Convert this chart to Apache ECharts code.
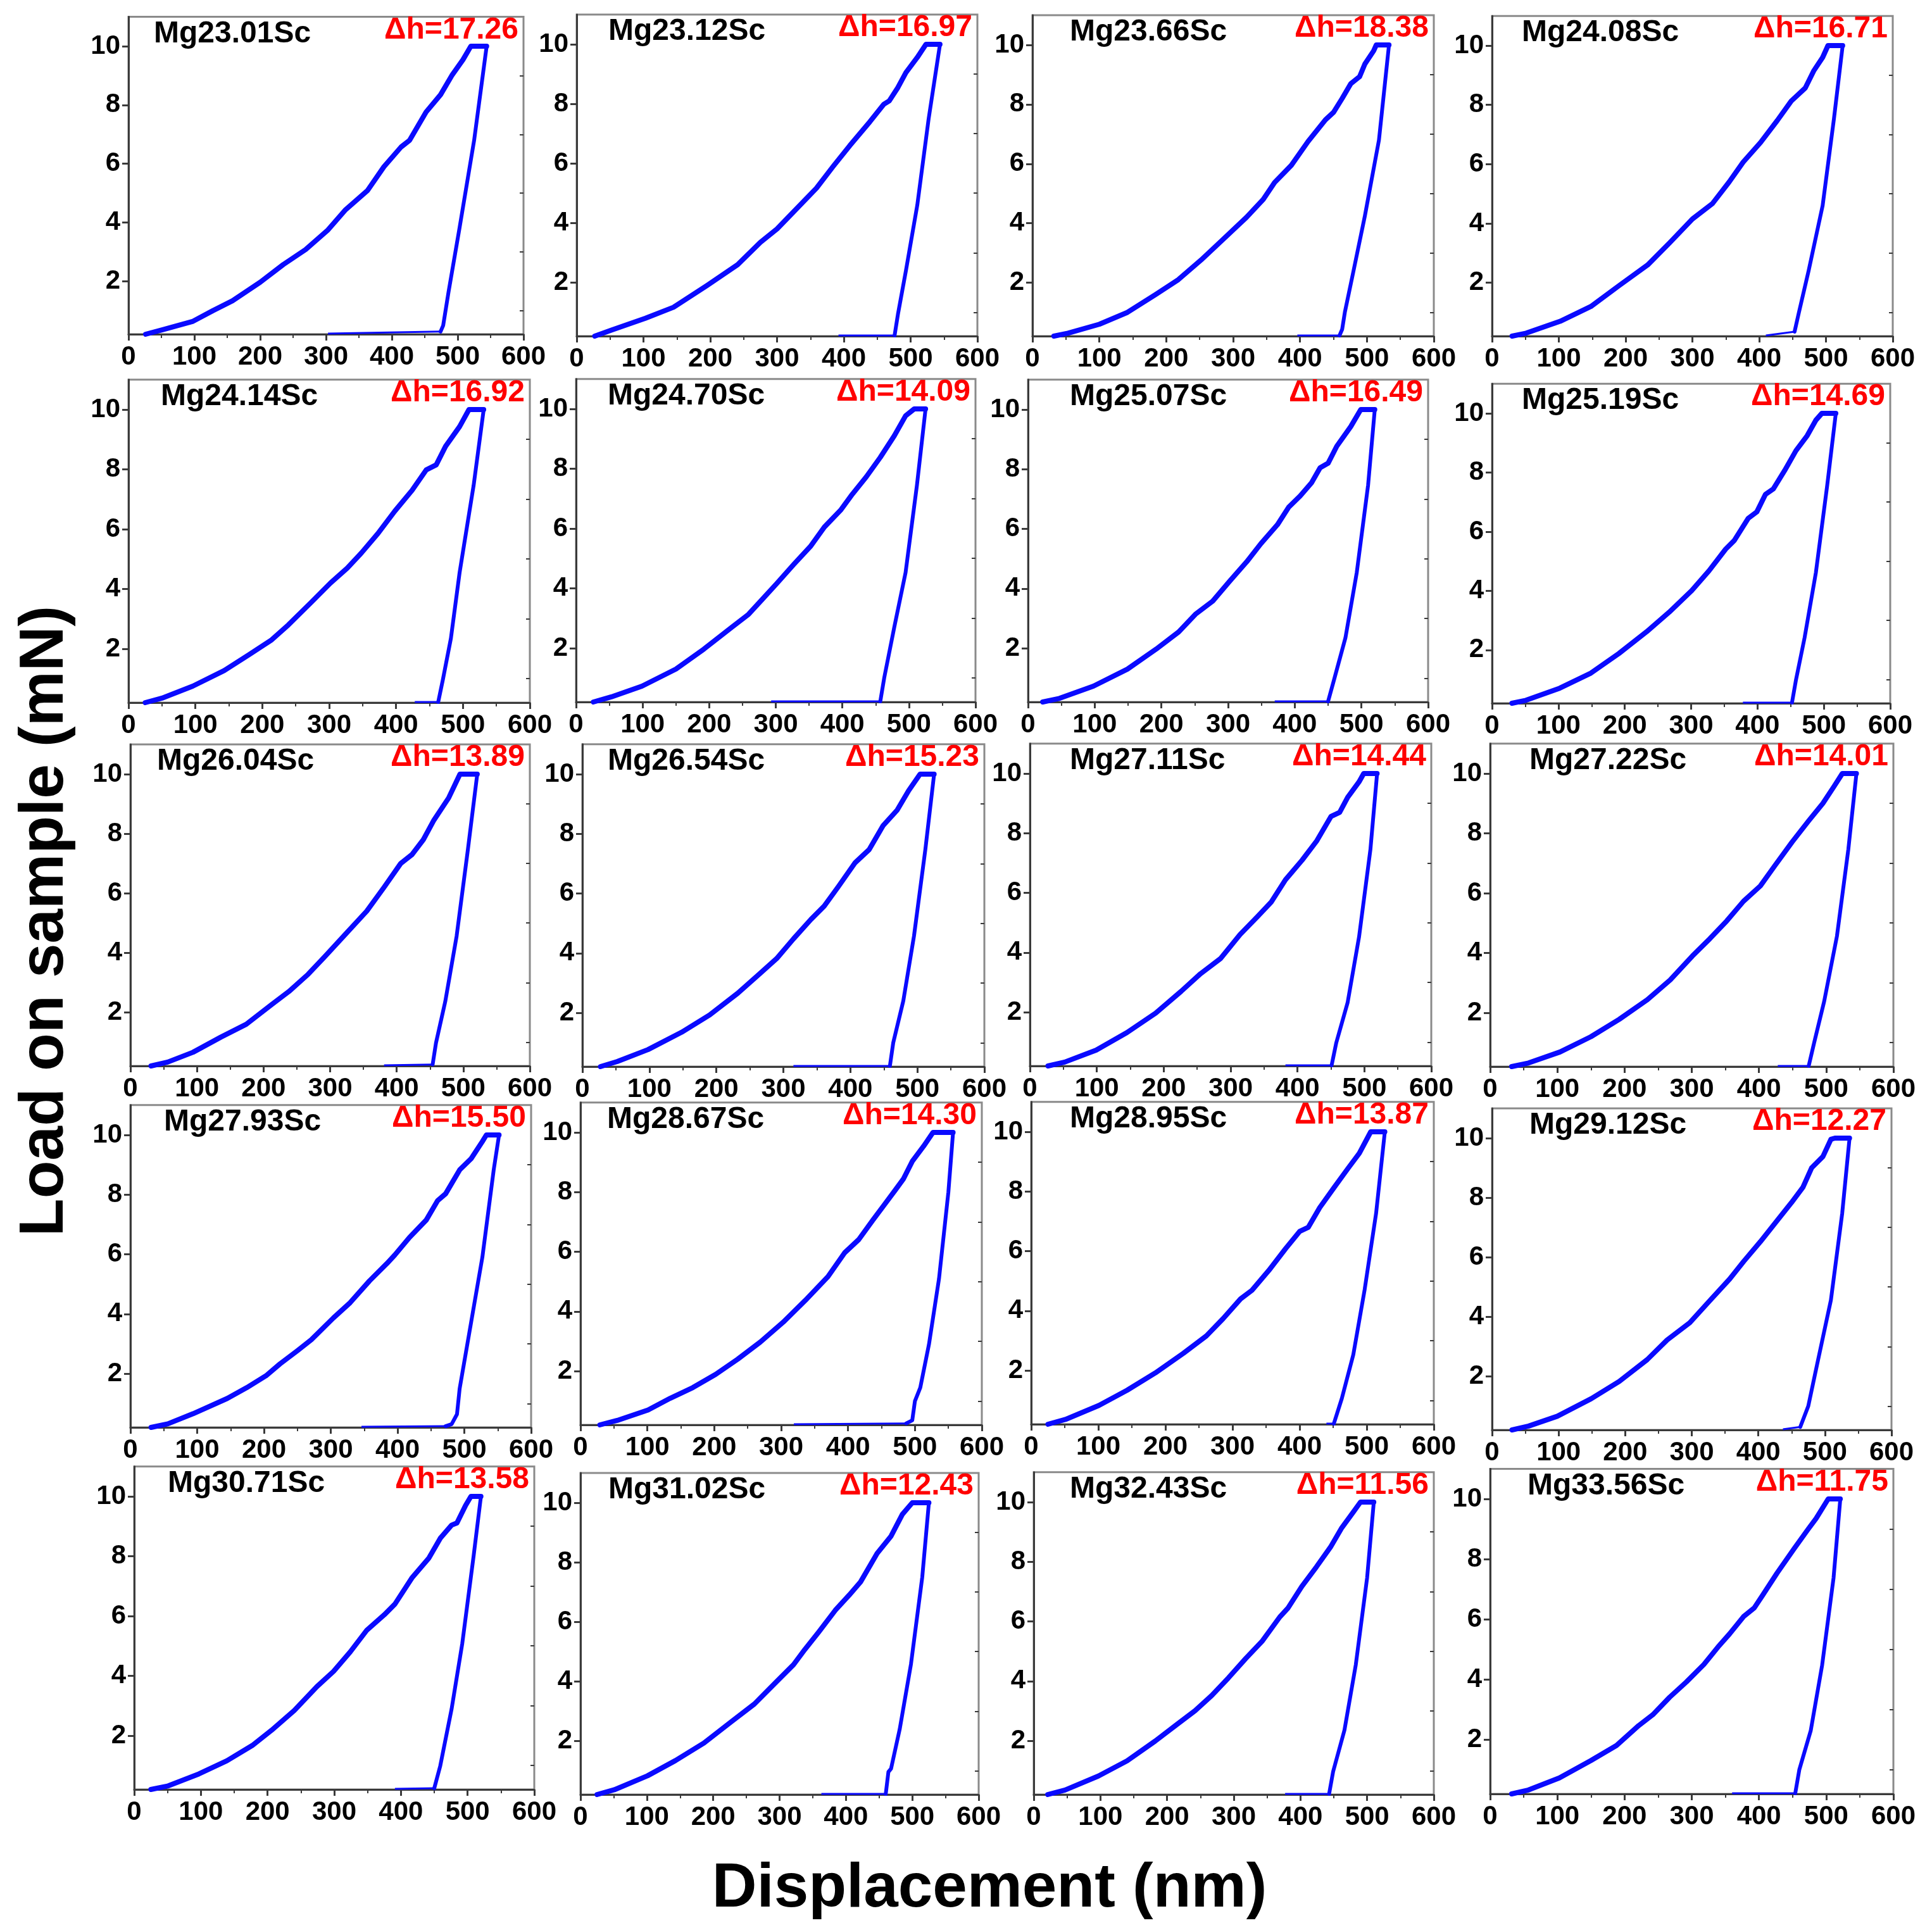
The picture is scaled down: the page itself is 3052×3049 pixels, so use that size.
<!DOCTYPE html>
<html>
<head>
<meta charset="utf-8">
<title>Load on sample vs displacement</title>
<script src="https://cdn.jsdelivr.net/npm/echarts@6/dist/echarts.min.js"></script>
<style>
html,body{margin:0;padding:0;background:#fff;}
#chart{width:3052px;height:3049px;}
</style>
</head>
<body>
<div id="chart"></div>
<script>
// panel names and Δh values, row by row
var samples = ['Mg23.01Sc','Mg23.12Sc','Mg23.66Sc','Mg24.08Sc',
               'Mg24.14Sc','Mg24.70Sc','Mg25.07Sc','Mg25.19Sc',
               'Mg26.04Sc','Mg26.54Sc','Mg27.11Sc','Mg27.22Sc',
               'Mg27.93Sc','Mg28.67Sc','Mg28.95Sc','Mg29.12Sc',
               'Mg30.71Sc','Mg31.02Sc','Mg32.43Sc','Mg33.56Sc'];
var deltaH = ['17.26','16.97','18.38','16.71',
              '16.92','14.09','16.49','14.69',
              '13.89','15.23','14.44','14.01',
              '15.50','14.30','13.87','12.27',
              '13.58','12.43','11.56','11.75'];

var yLabels = [2, 4, 6, 8, 10];
var yMinor = [1, 3, 5, 7, 9];

// loading branch (incl. hold at 10 mN), unloading branch, and x where the
// near-zero tail along the axis ends
var p01Load = [[26,0.2],[51,0.35],[98,0.64],[128,1.0],[158,1.34],[200,1.97],[235,2.57],[269,3.08],[303,3.75],[329,4.42],[363,5.09],[388,5.9],[414,6.57],[427,6.8],[452,7.76],[474,8.35],[491,9.0],[508,9.54],[520,10],[544,10]];
var p01Unload = [[544,10],[525,6.8],[503,3.84],[486,1.62],[478,0.5],[474,0.29]];
var p02Load = [[27,0.2],[52,0.4],[103,0.8],[145,1.17],[195,1.9],[241,2.6],[275,3.35],[300,3.8],[325,4.38],[359,5.17],[384,5.9],[409,6.6],[439,7.4],[460,7.99],[468,8.1],[481,8.55],[493,9.05],[510,9.56],[523,10],[544,10]];
var p02Unload = [[544,10],[527,7.5],[510,4.6],[493,2.4],[481,0.93],[476,0.22]];
var p03Load = [[32,0.2],[53,0.3],[100,0.6],[142,1.0],[184,1.6],[218,2.1],[252,2.76],[286,3.48],[320,4.2],[345,4.8],[362,5.37],[387,5.95],[412,6.75],[438,7.48],[450,7.73],[463,8.2],[476,8.7],[489,8.93],[497,9.36],[510,9.8],[514,10],[533,10]];
var p03Unload = [[533,10],[518,6.8],[497,4.25],[480,2.4],[467,1.0],[463,0.43],[459,0.22]];
var p04Load = [[30,0.2],[51,0.3],[102,0.7],[148,1.2],[190,1.9],[233,2.6],[266,3.35],[300,4.15],[330,4.67],[355,5.4],[376,6.07],[402,6.73],[427,7.47],[448,8.13],[469,8.57],[482,9.16],[495,9.6],[503,10],[525,10]];
var p04Unload = [[525,10],[512,7.54],[495,4.6],[474,2.4],[459,0.95],[453,0.35]];
var p05Load = [[25,0.2],[50,0.35],[96,0.75],[143,1.27],[180,1.8],[214,2.3],[239,2.8],[273,3.55],[302,4.2],[327,4.7],[348,5.2],[373,5.86],[398,6.6],[424,7.3],[445,7.98],[460,8.15],[474,8.77],[495,9.43],[509,10],[531,10]];
var p05Unload = [[531,10],[516,7.47],[495,4.55],[482,2.35],[470,0.97],[463,0.22]];
var p06Load = [[26,0.2],[53,0.37],[99,0.73],[150,1.3],[192,1.97],[234,2.7],[259,3.13],[280,3.64],[301,4.15],[327,4.8],[352,5.4],[373,6.05],[398,6.63],[415,7.15],[436,7.73],[457,8.38],[478,9.1],[495,9.77],[508,10],[525,10]];
var p06Unload = [[525,10],[512,7.44],[495,4.53],[478,2.7],[463,1.02],[457,0.22]];
var p07Load = [[22,0.2],[47,0.32],[98,0.73],[149,1.3],[192,1.97],[226,2.55],[251,3.14],[277,3.58],[302,4.24],[328,4.9],[349,5.5],[374,6.14],[391,6.73],[408,7.1],[425,7.54],[438,8.05],[450,8.2],[463,8.77],[484,9.43],[499,10],[520,10]];
var p07Unload = [[520,10],[510,7.47],[493,4.54],[476,2.35],[459,0.95],[450,0.22]];
var p08Load = [[30,0.2],[51,0.3],[102,0.71],[149,1.22],[191,1.88],[233,2.62],[267,3.28],[301,4.01],[327,4.68],[352,5.41],[365,5.7],[386,6.45],[399,6.67],[412,7.26],[424,7.45],[441,8.07],[458,8.74],[475,9.25],[488,9.77],[497,10],[518,10]];
var p08Unload = [[518,10],[505,7.56],[488,4.62],[471,2.42],[458,0.99],[452,0.22]];
var p09Load = [[31,0.2],[56,0.33],[94,0.66],[136,1.17],[174,1.6],[212,2.26],[238,2.7],[267,3.28],[292,3.87],[322,4.6],[355,5.4],[381,6.2],[406,7.0],[423,7.3],[440,7.8],[456,8.46],[478,9.2],[495,10],[521,10]];
var p09Unload = [[521,10],[507,7.48],[490,4.56],[473,2.37],[459,0.97],[454,0.25]];
var p10Load = [[27,0.2],[52,0.37],[98,0.77],[148,1.35],[190,1.93],[232,2.66],[265,3.32],[290,3.82],[315,4.48],[341,5.13],[361,5.58],[382,6.23],[407,7.03],[428,7.47],[449,8.28],[470,8.8],[487,9.45],[504,10],[525,10]];
var p10Unload = [[525,10],[512,7.49],[495,4.58],[479,2.4],[464,1.0],[459,0.22]];
var p11Load = [[27,0.2],[52,0.33],[99,0.73],[145,1.32],[188,1.97],[226,2.7],[255,3.29],[285,3.8],[314,4.6],[340,5.2],[361,5.7],[382,6.44],[407,7.1],[429,7.75],[450,8.56],[463,8.7],[475,9.2],[492,9.72],[499,10],[519,10]];
var p11Unload = [[519,10],[509,7.45],[492,4.52],[475,2.33],[458,0.98],[451,0.22]];
var p12Load = [[32,0.2],[57,0.32],[104,0.69],[150,1.2],[192,1.78],[234,2.44],[268,3.1],[301,3.9],[327,4.48],[352,5.07],[377,5.73],[402,6.24],[423,6.9],[449,7.7],[474,8.42],[495,9.0],[512,9.58],[524,10],[545,10]];
var p12Unload = [[545,10],[533,7.47],[516,4.56],[497,2.38],[482,0.99],[474,0.22]];
var p13Load = [[31,0.2],[56,0.32],[94,0.66],[145,1.17],[174,1.53],[203,1.93],[224,2.33],[250,2.77],[271,3.14],[304,3.87],[329,4.38],[358,5.11],[384,5.69],[396,5.98],[418,6.57],[443,7.15],[460,7.8],[472,8.03],[493,8.83],[510,9.2],[527,9.78],[533,10],[552,10]];
var p13Unload = [[552,10],[544,8.83],[527,5.9],[510,3.7],[493,1.5],[489,0.64],[481,0.31],[472,0.24]];
var p14Load = [[29,0.2],[55,0.35],[101,0.7],[134,1.09],[168,1.45],[202,1.89],[235,2.4],[269,2.98],[303,3.64],[336,4.37],[370,5.17],[395,5.97],[416,6.41],[437,7.06],[454,7.57],[471,8.08],[483,8.45],[496,9.03],[513,9.54],[527,10],[557,10]];
var p14Unload = [[557,10],[550,8.0],[536,5.1],[521,2.9],[508,1.45],[500,1.0],[496,0.35],[487,0.25]];
var p15Load = [[25,0.2],[51,0.36],[101,0.83],[143,1.34],[185,1.92],[227,2.58],[261,3.16],[286,3.74],[312,4.4],[329,4.69],[354,5.35],[379,6.08],[400,6.66],[413,6.8],[430,7.46],[451,8.12],[472,8.77],[489,9.28],[506,10],[527,10]];
var p15Unload = [[527,10],[514,7.27],[497,4.72],[480,2.53],[463,1.07],[451,0.22]];
var p16Load = [[30,0.2],[55,0.33],[98,0.66],[149,1.25],[191,1.83],[233,2.56],[263,3.22],[297,3.8],[327,4.54],[357,5.27],[378,5.86],[403,6.52],[429,7.25],[450,7.84],[467,8.35],[480,9.0],[497,9.38],[509,9.96],[515,10],[537,10]];
var p16Unload = [[537,10],[526,7.48],[509,4.56],[488,2.37],[475,1.0],[463,0.3]];
var p17Load = [[25,0.2],[51,0.32],[97,0.72],[139,1.16],[177,1.67],[206,2.18],[240,2.84],[274,3.64],[299,4.15],[324,4.8],[349,5.53],[375,6.04],[391,6.4],[417,7.29],[442,7.94],[459,8.6],[476,9.04],[484,9.11],[497,9.7],[505,10],[520,10]];
var p17Unload = [[520,10],[509,8.0],[492,5.08],[476,2.89],[459,0.99],[450,0.24]];
var p18Load = [[25,0.2],[51,0.36],[101,0.83],[143,1.34],[186,1.93],[228,2.66],[262,3.24],[295,3.98],[321,4.56],[338,5.07],[359,5.66],[384,6.39],[405,6.9],[422,7.34],[447,8.3],[468,8.88],[485,9.61],[500,10],[525,10]];
var p18Unload = [[525,10],[515,7.5],[498,4.58],[481,2.39],[468,1.07],[464,0.96],[460,0.22]];
var p19Load = [[21,0.2],[47,0.35],[97,0.82],[140,1.33],[182,1.99],[216,2.57],[242,3.01],[267,3.52],[292,4.11],[318,4.76],[343,5.35],[369,6.15],[381,6.44],[402,7.17],[424,7.83],[445,8.49],[462,9.14],[479,9.66],[490,10],[510,10]];
var p19Unload = [[510,10],[500,7.47],[483,4.55],[466,2.36],[449,0.97],[443,0.22]];
var p20Load = [[32,0.2],[57,0.33],[103,0.73],[150,1.31],[188,1.81],[221,2.47],[242,2.83],[267,3.41],[292,3.92],[318,4.5],[339,5.08],[356,5.51],[377,6.09],[393,6.38],[406,6.82],[427,7.54],[452,8.34],[473,8.99],[485,9.35],[503,10],[521,10]];
var p20Unload = [[521,10],[511,7.38],[494,4.48],[477,2.3],[460,1.0],[454,0.22]];

var tailEnd = [303,392,396,410, 428,293,370,378, 381,315,382,428, 346,319,440,437, 391,363,377,360];

var loads = [p01Load,p02Load,p03Load,p04Load,p05Load,p06Load,p07Load,p08Load,p09Load,p10Load,
             p11Load,p12Load,p13Load,p14Load,p15Load,p16Load,p17Load,p18Load,p19Load,p20Load];
var unloads = [p01Unload,p02Unload,p03Unload,p04Unload,p05Unload,p06Unload,p07Unload,p08Unload,p09Unload,p10Unload,
               p11Unload,p12Unload,p13Unload,p14Unload,p15Unload,p16Unload,p17Unload,p18Unload,p19Unload,p20Unload];

// panel frames in page px: [x at 0 nm, x at 600 nm, y at 10 mN, y of x axis]
var frames = [
  [203, 827, 73, 528], [911, 1544, 70, 531], [1631, 2265, 71, 531], [2357, 2990, 72, 531],
  [203, 837, 647, 1110], [910, 1541, 646, 1109], [1624, 2256, 647, 1109], [2357, 2986, 653, 1111],
  [206, 837, 1223, 1684], [920, 1555, 1223, 1685], [1627, 2261, 1222, 1684], [2354, 2991, 1222, 1685],
  [206, 839, 1793, 2255], [917, 1551, 1789, 2251], [1629, 2265, 1788, 2250], [2357, 2988, 1798, 2259],
  [212, 844, 2364, 2827], [917, 1546, 2374, 2835], [1633, 2265, 2373, 2835], [2354, 2991, 2368, 2834]
];
// x offset of the sample name from the panel's left edge
var nameOffset = [40,50,59,47, 51,50,66,47, 42,40,63,62, 53,42,61,59, 53,44,57,59];

var FONT = '"Liberation Sans", Arial, sans-serif';
var AXIS = '#3a3a3a';
var BLUE = '#0a0aff';
var Y_MIN = 0.2, Y_MAX = 11;

var chart = echarts.init(document.getElementById('chart'));
var grids = [], xAxes = [], yAxes = [], series = [], graphics = [];

frames.forEach(function (f, i) {
  var L = f[0], R = f[1], y10 = f[2], yb = f[3];
  var unit = (yb - y10) / (10 - Y_MIN);
  var top = y10 - (Y_MAX - 10) * unit;
  grids.push({
    left: L, top: top, width: R - L, height: yb - top,
    show: true, borderColor: '#8a8a8a', borderWidth: 3
  });
  xAxes.push({
    type: 'value', gridIndex: i, min: 0, max: 600, interval: 100,
    axisLine: { show: true, onZero: false, lineStyle: { color: AXIS, width: 3 } },
    axisTick: { show: true, length: 10, lineStyle: { color: AXIS, width: 3 } },
    minorTick: { show: true, splitNumber: 2, length: 6, lineStyle: { color: AXIS, width: 2 } },
    splitLine: { show: false },
    axisLabel: { fontSize: 42, fontWeight: 'bold', color: '#000', fontFamily: FONT, margin: 15 }
  });
  yAxes.push({
    type: 'value', gridIndex: i, min: Y_MIN, max: Y_MAX, position: 'left',
    axisLine: { show: true, onZero: false, lineStyle: { color: AXIS, width: 3 } },
    axisTick: { show: true, customValues: yLabels, length: 10, lineStyle: { color: AXIS, width: 3 } },
    splitLine: { show: false },
    axisLabel: { customValues: yLabels, fontSize: 42, fontWeight: 'bold', color: '#000', fontFamily: FONT, margin: 13 }
  });
  // minor ticks only: parked on the left edge
  yAxes.push({
    type: 'value', gridIndex: i, min: Y_MIN, max: Y_MAX, position: 'right', offset: -(R - L),
    axisLine: { show: false },
    axisTick: { show: true, inside: true, customValues: yMinor, length: 6, lineStyle: { color: AXIS, width: 2 } },
    axisLabel: { show: false },
    splitLine: { show: false }
  });

  var unload = unloads[i];
  var last = unload[unload.length - 1];
  series.push({
    type: 'line', xAxisIndex: i, yAxisIndex: 2 * i, data: loads[i],
    showSymbol: false,
    lineStyle: { color: BLUE, width: 8, join: 'round', cap: 'round' }, z: 3
  });
  series.push({
    type: 'line', xAxisIndex: i, yAxisIndex: 2 * i, data: unload,
    showSymbol: false,
    lineStyle: { color: BLUE, width: 6, join: 'round', cap: 'round' }, z: 3
  });
  series.push({
    type: 'line', xAxisIndex: i, yAxisIndex: 2 * i, data: [last, [tailEnd[i], 0.22]],
    showSymbol: false, lineStyle: { color: BLUE, width: 3 }, z: 3
  });

  graphics.push({
    type: 'text', x: L + nameOffset[i], y: top + 27, z: 10,
    style: { text: samples[i], font: 'bold 48px ' + FONT, fill: '#000', align: 'left', verticalAlign: 'middle' }
  });
  graphics.push({
    type: 'text', x: R - 8, y: top + 21, z: 10,
    style: { text: '\u0394h=' + deltaH[i], font: 'bold 48px ' + FONT, fill: '#ff0000', align: 'right', verticalAlign: 'middle' }
  });
});

graphics.push({
  type: 'text', x: 72, y: 1455, rotation: Math.PI / 2, z: 10,
  style: { text: 'Load on sample (mN)', font: 'bold 98px ' + FONT, fill: '#000', align: 'center', verticalAlign: 'middle' }
});
graphics.push({
  type: 'text', x: 1563, y: 2985, z: 10,
  style: { text: 'Displacement (nm)', font: 'bold 98px ' + FONT, fill: '#000', align: 'center', verticalAlign: 'middle' }
});

chart.setOption({
  animation: false,
  backgroundColor: '#fff',
  grid: grids,
  xAxis: xAxes,
  yAxis: yAxes,
  series: series,
  graphic: graphics
});
window.onresize = chart.resize;
</script>
</body>
</html>
